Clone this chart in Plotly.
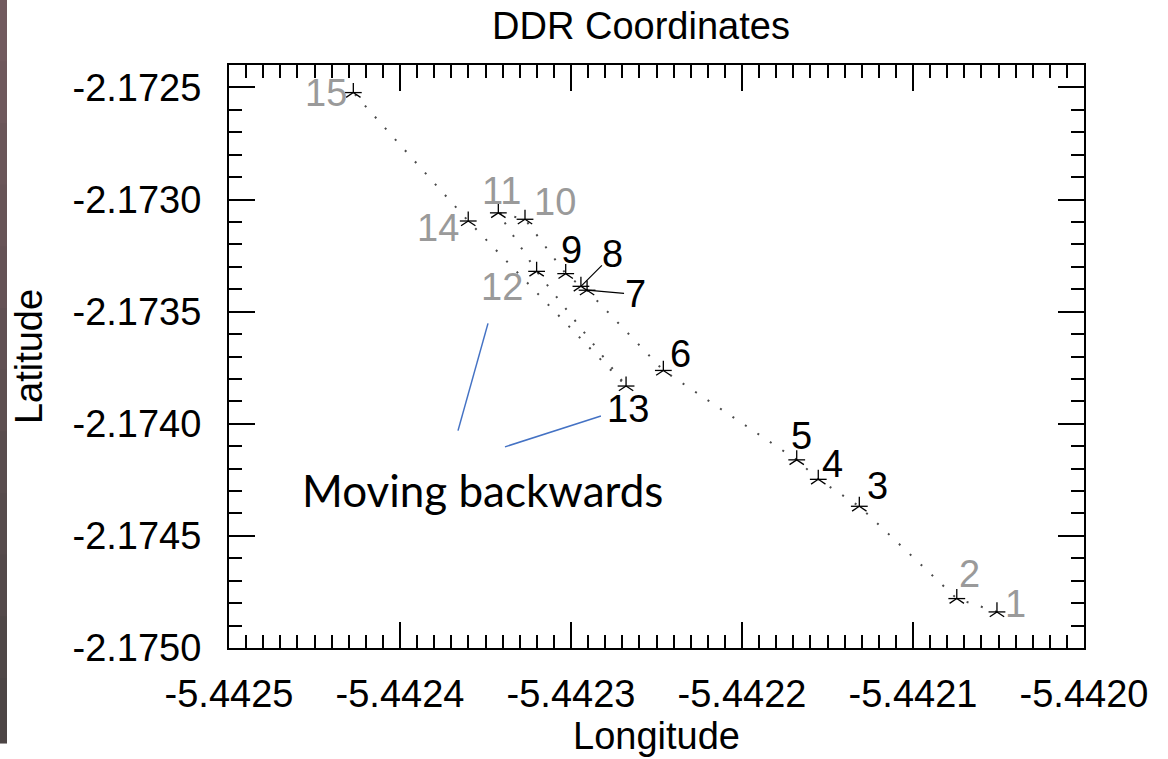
import plotly.graph_objects as go

# Track positions in DDR coordinates (points 1..15, in time order)
point_ids = [str(i) for i in range(1, 16)]
longitude = [-5.4420509, -5.4420744, -5.4421314, -5.4421554, -5.4421680,
             -5.4422460, -5.4422906, -5.4422942, -5.4423031, -5.4423269,
             -5.4423425, -5.4423201, -5.4422678, -5.4423601, -5.4424273]
latitude = [-2.1748391, -2.1747796, -2.1743680, -2.1742478, -2.1741609,
            -2.1737622, -2.1734044, -2.1733870, -2.1733304, -2.1730880,
            -2.1730594, -2.1733203, -2.1738317, -2.1730957, -2.1725230]
# points shown in grey
grey_ids = {"1", "2", "10", "11", "12", "14", "15"}

x_ticks = [-5.4425, -5.4424, -5.4423, -5.4422, -5.4421, -5.4420]
y_ticks = [-2.1750, -2.1745, -2.1740, -2.1735, -2.1730, -2.1725]

# ---- layout constants ----
W, H = 1168, 759
ML, MR, MT, MB = 229, 84, 65, 96
FONT = "Liberation Sans, Arial, Helvetica, sans-serif"
FS = 38
GREY = "#9a9a9a"

# label placement (pixel offsets from each point) and leader lines
label_shift = {
    "1": (19, 8), "2": (13, 25), "3": (18, 20), "4": (14, 15), "5": (5, 24),
    "6": (17, 16), "9": (6, 24), "10": (30, 17), "11": (3, 22),
    "12": (-35, -16), "13": (2, -23), "14": (-30, -7), "15": (-27, 0),
}
label_arrow = {"7": (48, 4), "8": (32, -32)}

fig = go.Figure()

# dotted track
fig.add_trace(go.Scatter(
    x=longitude, y=latitude, mode="lines",
    line=dict(color="#4a4a4a", width=2, dash="2px,13px"),
    hoverinfo="skip", showlegend=False))

# asterisk markers: up-arm with two lower legs, plus a horizontal bar
for sym, size in (("y-up-open", 12), ("line-ew-open", 12)):
    fig.add_trace(go.Scatter(
        x=longitude, y=latitude, mode="markers",
        marker=dict(symbol=sym, size=size, color="black",
                    line=dict(color="black", width=1.3)),
        hoverinfo="skip", showlegend=False))

annotations = []
for pid, lon, lat in zip(point_ids, longitude, latitude):
    color = GREY if pid in grey_ids else "black"
    if pid in label_arrow:
        ax, ay = label_arrow[pid]
        annotations.append(dict(
            x=lon, y=lat, xref="x", yref="y", text=pid,
            showarrow=True, arrowhead=0, arrowwidth=1.2, arrowcolor="black",
            ax=ax, ay=ay, standoff=0, borderpad=0,
            font=dict(family=FONT, size=FS, color=color)))
    else:
        dx, dy = label_shift[pid]
        annotations.append(dict(
            x=lon, y=lat, xref="x", yref="y", text=pid, showarrow=False,
            xshift=dx, yshift=dy,
            font=dict(family=FONT, size=FS, color=color)))

# "Moving backwards" callout
annotations.append(dict(
    x=-5.44235175, y=-2.1742783, xref="x", yref="y", yshift=-4,
    text="Moving backwards", showarrow=False,
    font=dict(family="Lato, Carlito, Calibri, sans-serif", size=44, color="black")))

shapes = [
    dict(type="line", xref="x", yref="y",
         x0=-5.44236608, y0=-2.1740304, x1=-5.44234854, y1=-2.1735522,
         line=dict(color="#4472C4", width=1.5)),
    dict(type="line", xref="x", yref="y",
         x0=-5.4423386, y0=-2.1741030, x1=-5.4422825, y1=-2.1739652,
         line=dict(color="#4472C4", width=1.5)),
]

# dark slide edge along the left border
pw, ph = W - ML - MR, H - MT - MB
n_band = 12
top_rgb, bot_rgb = (113, 90, 94), (76, 69, 69)
for i in range(n_band):
    t = i / (n_band - 1)
    c = tuple(round(a + (b - a) * t) for a, b in zip(top_rgb, bot_rgb))
    top_px = H * i / n_band - 2
    bot_px = H * (i + 1) / n_band + 2
    shapes.append(dict(type="rect", xref="paper", yref="paper",
                       x0=-ML / pw, x1=(-ML + 7) / pw,
                       y0=(H - MB - bot_px) / ph, y1=(H - MB - top_px) / ph,
                       fillcolor="rgb(%d,%d,%d)" % c, line=dict(width=0),
                       layer="above"))

axis_common = dict(
    showline=True, linecolor="black", linewidth=2, mirror="allticks",
    ticks="inside", ticklen=26, tickwidth=1.5, tickcolor="black",
    showgrid=False, zeroline=False, tickformat=".4f",
    tickfont=dict(family=FONT, size=FS, color="black"),
)

fig.update_layout(
    width=W, height=H,
    margin=dict(l=ML, r=MR, t=MT, b=MB),
    paper_bgcolor="white", plot_bgcolor="white",
    title=dict(text="DDR Coordinates", x=641 / W, xanchor="center",
               y=1 - 26 / H, yanchor="middle",
               font=dict(family=FONT, size=FS, color="black")),
    xaxis=dict(range=[-5.4425, -5.4420], tickvals=x_ticks,
               ticktext=["%.4f" % v for v in x_ticks],
               minor=dict(dtick=0.00001, tick0=-5.4425, ticks="inside",
                          ticklen=13, tickwidth=1.5, tickcolor="black"),
               title=dict(text="Longitude", standoff=6,
                          font=dict(family=FONT, size=FS, color="black")),
               ticklabelstandoff=11,
               **axis_common),
    yaxis=dict(range=[-2.1750, -2.1724], tickvals=y_ticks,
               ticktext=["%.4f" % v for v in y_ticks],
               minor=dict(dtick=0.0001, tick0=-2.1750, ticks="inside",
                          ticklen=13, tickwidth=1.5, tickcolor="black"),
               title=dict(text="Latitude", standoff=18,
                          font=dict(family=FONT, size=FS, color="black")),
               ticklabelstandoff=18,
               **axis_common),
    annotations=annotations,
    shapes=shapes,
)

fig.write_html("out.html")
